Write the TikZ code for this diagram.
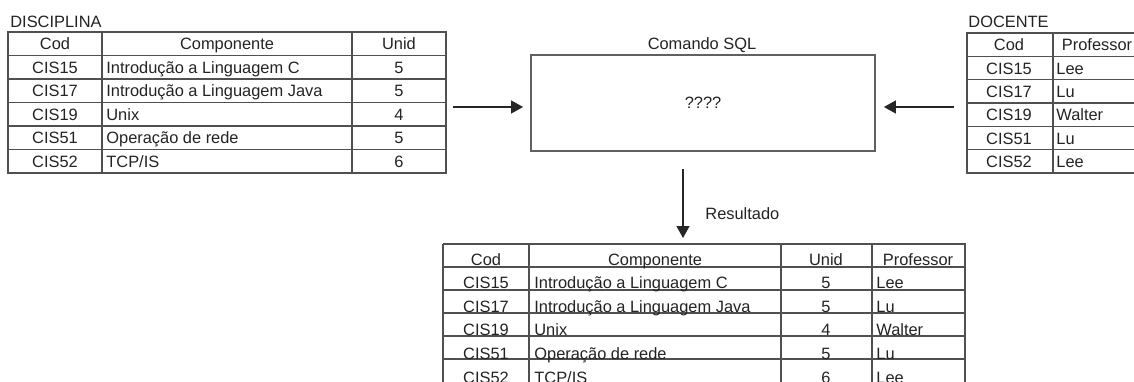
\documentclass[tikz,border=0pt]{standalone}
\usepackage{fontspec}
\setmainfont{Liberation Sans}
\usetikzlibrary{arrows.meta}
\definecolor{linegray}{RGB}{80,80,80}
\definecolor{textgray}{RGB}{35,35,35}

\begin{document}
\begin{tikzpicture}[x=0.5pt, y=-0.5pt,
    txt/.style={font=\fontsize{8.2}{10}\selectfont, text=textgray, inner sep=0pt, anchor=base},
    rule/.style={draw=linegray, line width=0.7pt},
    sqlbox/.style={draw=gray!75!black, line width=0.9pt, minimum width=172pt, minimum height=48pt,
        font=\fontsize{8.2}{10}\selectfont, text=textgray},
    flow/.style={draw=black!85, line width=0.6pt, -{Triangle[length=6pt, width=6.5pt]}}]

    \useasboundingbox (0,0) rectangle (1134,381);
    \clip (0,0) rectangle (1134,381);

    % Table DISCIPLINA
    \node[txt, anchor=base west] (discT) at (10,27) {DISCIPLINA};
    \draw[rule] (8,32) rectangle (446,173);
    \foreach \k in {1,...,5}
        \draw[rule] (8,{32+23.5*\k}) -- (446,{32+23.5*\k});
    \draw[rule] (102,32) -- (102,173);
    \draw[rule] (352,32) -- (352,173);
    \node[txt] (dh1) at (55,49.75) {Cod};
    \node[txt] (dh2) at (227,49.75) {Componente};
    \node[txt] (dh3) at (399,49.75) {Unid};
    \foreach \cod/\comp/\unid [count=\i] in {CIS15/Introdução a Linguagem C/5,
        CIS17/Introdução a Linguagem Java/5, CIS19/Unix/4, CIS51/Operação de rede/5, CIS52/{TCP/IS}/6} {
        \node[txt] (dc\i) at (55,{49.75+23.5*\i}) {\cod};
        \node[txt, anchor=base west] (dn\i) at (106,{49.75+23.5*\i}) {\comp};
        \node[txt] (du\i) at (399,{49.75+23.5*\i}) {\unid};
    }

    % Table DOCENTE
    \node[txt, anchor=base west] (docT) at (968,27) {DOCENTE};
    \draw[rule] (967,33) rectangle (1141,173);
    \foreach \k in {1,...,5}
        \draw[rule] (967,{33+23.33*\k}) -- (1141,{33+23.33*\k});
    \draw[rule] (1053,33) -- (1053,173);
    \node[txt] (th1) at (1009,50.7) {Cod};
    \node[txt] (th2) at (1097,50.7) {Professor};
    \foreach \cod/\prof [count=\i] in {CIS15/Lee, CIS17/Lu, CIS19/Walter, CIS51/Lu, CIS52/Lee} {
        \node[txt] (tc\i) at (1009,{50.7+23.33*\i}) {\cod};
        \node[txt, anchor=base west] (tp\i) at (1056,{50.7+23.33*\i}) {\prof};
    }

    % SQL command box
    \node[txt] (sqlT) at (702,49) {Comando SQL};
    \node[sqlbox] (sql) at (703,103) {????};

    % Arrows into and out of the box
    \coordinate (inL) at (453,107);
    \coordinate (inR) at (954,107);
    \coordinate (outT) at (683,169);
    \coordinate (outB) at (683,244);
    \draw[flow, shorten >=3.5pt] (inL) -- (inL -| sql.west);
    \draw[flow, shorten >=4pt] (inR) -- (inR -| sql.east);
    \draw[flow, shorten >=3pt] (outT) -- (outB);
    \node[txt, anchor=base west] (resT) at (705,219) {Resultado};

    % Result table
    \draw[rule] (443,244) -- (443,390) (443,244) -- (965,244) -- (965,390);
    \foreach \k in {1,...,5}
        \draw[rule] (443,{244+23*\k}) -- (965,{244+23*\k});
    \foreach \cx in {529,781,872}
        \draw[rule] (\cx,244) -- (\cx,390);
    \node[txt] (rh1) at (486,265) {Cod};
    \node[txt] (rh2) at (655,265) {Componente};
    \node[txt] (rh3) at (826,265) {Unid};
    \node[txt] (rh4) at (918,265) {Professor};
    \foreach \cod/\comp/\unid/\prof [count=\i] in {CIS15/Introdução a Linguagem C/5/Lee,
        CIS17/Introdução a Linguagem Java/5/Lu, CIS19/Unix/4/Walter, CIS51/Operação de rede/5/Lu,
        CIS52/{TCP/IS}/6/Lee} {
        \node[txt] (rc\i) at (486,{265+23.6*\i}) {\cod};
        \node[txt, anchor=base west] (rn\i) at (534,{265+23.6*\i}) {\comp};
        \node[txt] (ru\i) at (826,{265+23.6*\i}) {\unid};
        \node[txt, anchor=base west] (rp\i) at (876,{265+23.6*\i}) {\prof};
    }
\end{tikzpicture}
\end{document}
